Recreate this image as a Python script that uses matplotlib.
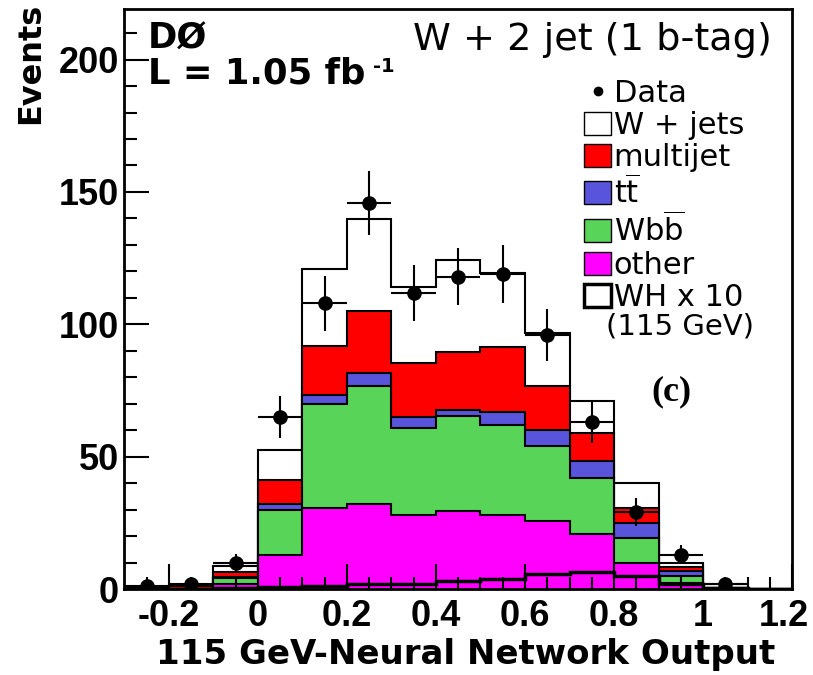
import numpy as np
import matplotlib.pyplot as plt
from matplotlib.patches import Patch
from matplotlib.lines import Line2D
from matplotlib.transforms import ScaledTranslation

plt.rcParams['font.family'] = ['DejaVu Sans']
plt.rcParams['mathtext.fontset'] = 'dejavusans'

# bins of the neural network output
edges = np.linspace(-0.3, 1.2, 16)

# background components (events per bin), stacked bottom -> top
other = [0, 0, 1.9, 13.0, 30.6, 32.2, 28.0, 29.4, 28.0, 25.6, 20.8, 9.7, 2.4, 0.3, 0]
wbb = [0, 0, 2.3, 16.9, 39.2, 44.4, 32.9, 35.9, 33.9, 28.3, 21.2, 9.6, 2.5, 0.2, 0]
ttbar = [0, 0, 0.4, 2.3, 3.4, 5.1, 4.1, 2.3, 5.0, 6.3, 6.2, 5.6, 1.9, 0, 0]
multijet = [0, 1.0, 1.8, 9.1, 18.5, 23.5, 20.2, 22.0, 24.6, 16.4, 10.8, 5.7, 1.6, 0, 0]
wjets = [0.3, 0.5, 2.3, 11.4, 29.3, 34.6, 29.0, 34.6, 27.7, 20.1, 12.1, 9.4, 1.3, 1.3, 0]
# signal WH x 10
wh10 = [0, 0, 0.3, 0.6, 1.3, 1.9, 1.9, 3.2, 3.8, 5.7, 6.3, 5.0, 1.9, 0.2, 0]
# data
data = [1, 2, 10, 65, 108, 146, 112, 118, 119, 96, 63, 29, 13, 2, 0]

comps = [other, wbb, ttbar, multijet, wjets]
colors = ['#ff00ff', '#58d458', '#5854dc', '#ff0000', 'white']

fig = plt.figure(figsize=(8.13, 6.75), dpi=100)
ax = fig.add_axes([0.1531, 0.1274, 0.8211, 0.8588])

# cumulative tops, draw from largest down so each fills from zero
tops = np.cumsum(np.array(comps, dtype=float), axis=0)
for top, c in list(zip(tops, colors))[::-1]:
    ax.stairs(top, edges, baseline=0, fill=True, facecolor=c, edgecolor='none')
    ax.stairs(top, edges, baseline=0, fill=False, color='black', lw=1.5)

ax.stairs(wh10, edges, baseline=0, fill=False, color='black', lw=2.5)

# data points with poisson errors
centers = (edges[:-1] + edges[1:]) / 2
d = np.array(data, dtype=float)
m = d > 0
ax.errorbar(centers[m], d[m], yerr=np.sqrt(d[m]), xerr=0.05, fmt='o', color='black',
            markersize=9.5, elinewidth=1.5, capsize=0, zorder=5)

ax.set_xlim(-0.3, 1.2)
ax.set_ylim(0, 219)
ax.set_xticks([-0.2, 0, 0.2, 0.4, 0.6, 0.8, 1, 1.2])
ax.set_xticklabels(['-0.2', '0', '0.2', '0.4', '0.6', '0.8', '1', '1.2'])
ax.set_xticks(np.arange(-0.25, 1.2, 0.05), minor=True)
ax.set_yticks([0, 50, 100, 150, 200])
ax.set_yticks(np.arange(0, 219, 10), minor=True)
ax.tick_params(which='both', direction='in', width=1.5)
ax.tick_params(which='major', length=18)
ax.tick_params(which='minor', length=9)
ax.tick_params(axis='x', pad=7)
ax.tick_params(axis='y', pad=4)
for lab in ax.get_xticklabels() + ax.get_yticklabels():
    lab.set_fontfamily('Liberation Sans')
    lab.set_fontsize(26)
    lab.set_fontweight('bold')
for s in ax.spines.values():
    s.set_linewidth(2)
# keep the last x label inside the figure
last = ax.get_xticklabels()[-1]
last.set_transform(last.get_transform() + ScaledTranslation(-8 / 100, 0, fig.dpi_scale_trans))

ax.set_xlabel('115 GeV-Neural Network Output', fontsize=24.5, fontweight='bold', ha='right')
ax.xaxis.set_label_coords(0.975, -0.085)
ax.set_ylabel('Events', fontsize=23, fontweight='bold', loc='top')
ax.yaxis.set_label_coords(-0.118, 1.012)

ax.text(0.035, 0.978, 'DØ', transform=ax.transAxes, fontsize=25.5, fontweight='bold', va='top')
ax.text(0.035, 0.919, 'L = 1.05 fb', transform=ax.transAxes, fontsize=25.5,
        fontweight='bold', va='top')
ax.text(0.373, 0.917, '-1', transform=ax.transAxes, fontsize=14, fontweight='bold', va='top')
ax.text(0.97, 0.978, 'W + 2 jet (1 b-tag)', transform=ax.transAxes, fontsize=27.5, ha='right', va='top')
ax.text(0.82, 0.34, '(c)', transform=ax.transAxes, fontsize=26, family='Liberation Serif',
        fontweight='bold', ha='center', va='center')

handles = [
    Line2D([], [], marker='o', color='black', ls='none', markersize=6),
    Patch(facecolor='white', edgecolor='black', lw=1),
    Patch(facecolor='#ff0000', edgecolor='black', lw=1),
    Patch(facecolor='#5854dc', edgecolor='black', lw=1),
    Patch(facecolor='#58d458', edgecolor='black', lw=1),
    Patch(facecolor='#ff00ff', edgecolor='black', lw=1),
    Patch(facecolor='white', edgecolor='black', lw=2.5),
]
labels = ['Data', 'W + jets', 'multijet', r'$\mathrm{t\overline{t}}$', r'W$\mathrm{b\overline{b}}$',
          'other', 'WH x 10']
ax.legend(handles, labels, loc='upper left', bbox_to_anchor=(0.689, 0.88), frameon=False,
          fontsize=22, handlelength=0.88, handleheight=0.78, handletextpad=0.08,
          labelspacing=0.1, borderpad=0, borderaxespad=0)
ax.text(0.832, 0.453, '(115 GeV)', transform=ax.transAxes, fontsize=21, ha='center', va='center')

fig.savefig('out.png', dpi=100)
